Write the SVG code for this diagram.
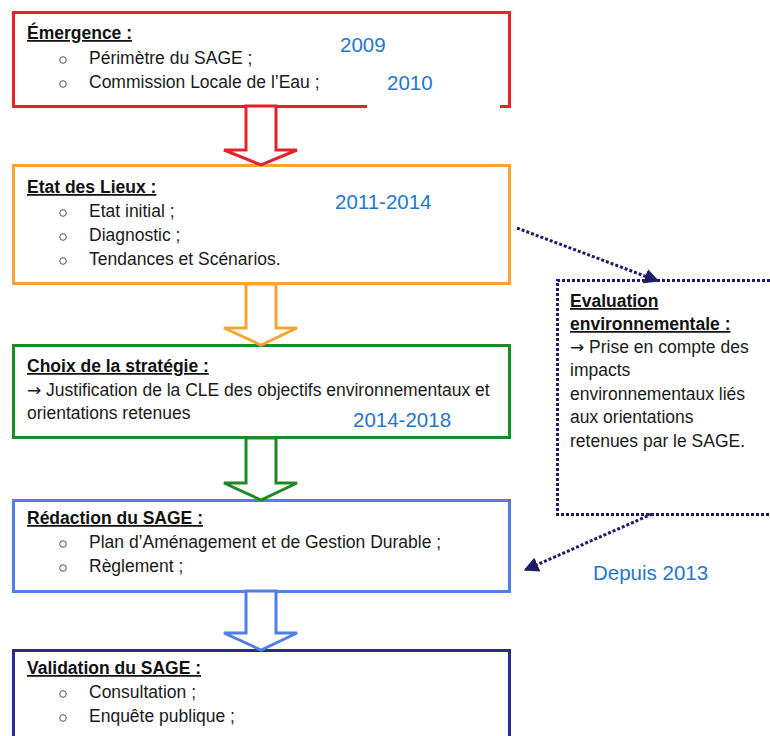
<svg xmlns="http://www.w3.org/2000/svg" width="770" height="736" viewBox="0 0 770 736">
<style>
  text { font-family: "Liberation Sans", Arial, sans-serif; }
  .t { font-size: 17.5px; font-weight: bold; fill: #111; text-decoration: underline; }
  .b { font-size: 17.5px; fill: #1a1a1a; }
  .ar { font-family: "DejaVu Sans", sans-serif; font-size: 17px; }
  .y { font-size: 20.5px; fill: #1f78cc; }
  .box { fill: #fff; stroke-width: 3; }
  .bul { fill: none; stroke: #555; stroke-width: 1; }
  .arr { fill: #fff; stroke-width: 3; stroke-linejoin: miter; }
  .dot { fill: none; stroke: #1c1c6b; stroke-width: 3; stroke-dasharray: 3 2; }
</style>
<defs>
  <marker id="ah" viewBox="0 0 10 10" refX="9" refY="5" markerWidth="5" markerHeight="5" orient="auto" markerUnits="strokeWidth">
    <path d="M0,0 L10,5 L0,10 Z" fill="#1c1c6b"/>
  </marker>
</defs>
<rect width="770" height="736" fill="#fff"/>

<g id="emergence">
  <rect class="box" x="13.5" y="12.5" width="496" height="94" stroke="#e3232b"/>
  <rect x="367" y="100" width="133" height="10" fill="#fff"/>
  <text class="t" x="27" y="39">Émergence :</text>
  <circle class="bul" cx="63" cy="60" r="3.3"/>
  <text class="b" x="89" y="64">Périmètre du SAGE ;</text>
  <circle class="bul" cx="63" cy="84" r="3.3"/>
  <text class="b" x="89" y="88">Commission Locale de l’Eau ;</text>
  <text class="y" x="340" y="52">2009</text>
  <text class="y" x="387" y="90">2010</text>
</g>

<g id="etat-des-lieux">
  <rect class="box" x="13.5" y="165.5" width="496" height="118" stroke="#f5a533"/>
  <text class="t" x="27" y="193">Etat des Lieux :</text>
  <circle class="bul" cx="63" cy="213" r="3.3"/>
  <text class="b" x="89" y="217">Etat initial ;</text>
  <circle class="bul" cx="63" cy="237" r="3.3"/>
  <text class="b" x="89" y="241">Diagnostic ;</text>
  <circle class="bul" cx="63" cy="261" r="3.3"/>
  <text class="b" x="89" y="265">Tendances et Scénarios.</text>
  <text class="y" x="335" y="209">2011-2014</text>
</g>

<g id="choix-strategie">
  <rect class="box" x="13.5" y="345.5" width="496" height="92" stroke="#1e8a24"/>
  <text class="t" x="27" y="372">Choix de la stratégie :</text>
  <text class="b" x="27" y="396"><tspan class="ar">→</tspan> Justification de la CLE des objectifs environnementaux et</text>
  <text class="b" x="27" y="419">orientations retenues</text>
  <text class="y" x="353" y="427">2014-2018</text>
</g>

<g id="redaction">
  <rect class="box" x="13.5" y="500.5" width="496" height="91" stroke="#4f80e6"/>
  <text class="t" x="27" y="524">Rédaction du SAGE :</text>
  <circle class="bul" cx="63" cy="544" r="3.3"/>
  <text class="b" x="89" y="548">Plan d’Aménagement et de Gestion Durable ;</text>
  <circle class="bul" cx="63" cy="568" r="3.3"/>
  <text class="b" x="89" y="572">Règlement ;</text>
</g>

<g id="validation">
  <rect class="box" x="13.5" y="650.5" width="496" height="110" stroke="#2b2b8c"/>
  <text class="t" x="27" y="674">Validation du SAGE :</text>
  <circle class="bul" cx="63" cy="694" r="3.3"/>
  <text class="b" x="89" y="698">Consultation ;</text>
  <circle class="bul" cx="63" cy="718" r="3.3"/>
  <text class="b" x="89" y="722">Enquête publique ;</text>
</g>

<g id="evaluation">
  <path class="dot" d="M775,280.5 H557.5 V514.5 H775"/>
  <text class="t" x="570" y="307">Evaluation</text>
  <text class="t" x="570" y="330">environnementale :</text>
  <text class="b" x="570" y="353"><tspan class="ar">→</tspan> Prise en compte des</text>
  <text class="b" x="570" y="376">impacts</text>
  <text class="b" x="570" y="400">environnementaux liés</text>
  <text class="b" x="570" y="423">aux orientations</text>
  <text class="b" x="570" y="447">retenues par le SAGE.</text>
</g>

<text class="y" x="593" y="580">Depuis 2013</text>

<g id="connectors">
  <polygon class="arr" stroke="#e3232b" points="246,106 276,106 276,150 297,150 261,165 224,150 246,150"/>
  <polygon class="arr" stroke="#f5a533" points="246,284 276,284 276,328 297,328 261,345 224,328 246,328"/>
  <polygon class="arr" stroke="#1e8a24" points="246,438 276,438 276,483 297,483 261,500 224,483 246,483"/>
  <polygon class="arr" stroke="#4f80e6" points="246,591 276,591 276,633 297,633 261,650 224,633 246,633"/>
  <line class="dot" x1="517" y1="228" x2="658" y2="281" marker-end="url(#ah)"/>
  <line class="dot" x1="652" y1="514" x2="525" y2="570" marker-end="url(#ah)"/>
</g>
</svg>
